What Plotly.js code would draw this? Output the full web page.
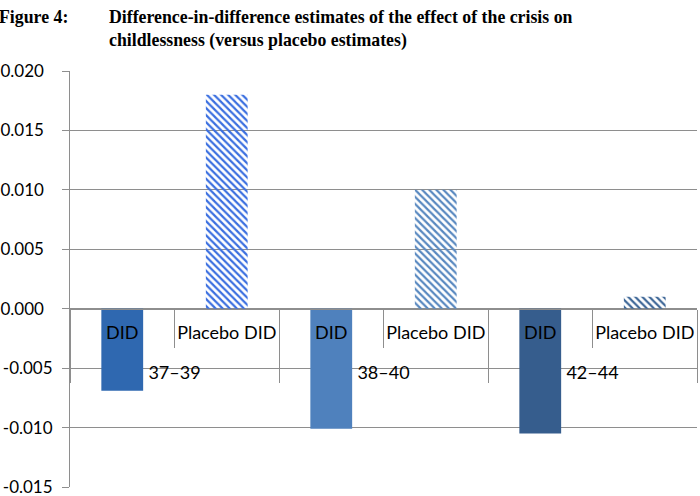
<!DOCTYPE html>
<html><head><meta charset="utf-8">
<script src="https://cdn.plot.ly/plotly-3.0.1.min.js"></script>
<style>html,body{margin:0;padding:0;background:#fff}</style>
</head><body><div id="chart" style="width:700px;height:496px"></div>
<script>
const ageGroups = ['37–39', '38–40', '42–44'];
const estimateTypes = ['DID', 'Placebo DID'];
const didValues = [-0.0069, -0.0101, -0.0105];
const placeboValues = [0.0180, 0.0100, 0.0010];
const didColors = ['#2f68b0', '#4f81bd', '#365d8d'];
const placeboColors = ['#3b6fe0', '#5888c0', '#3f6898'];
const yTickVals = [-0.015, -0.010, -0.005, 0.000, 0.005, 0.010, 0.015, 0.020];
const yTickText = yTickVals.map(v => v < 0 ? '-' + Math.abs(v).toFixed(3) : v.toFixed(3) + '\u00a0\u00a0');

const xGroup = [], xSub = [], yVals = [], colors = [], shapes = [];
ageGroups.forEach((g, i) => {
  const label = '<br>' + g;
  xGroup.push(label, label);
  xSub.push(estimateTypes[0], estimateTypes[1]);
  yVals.push(didValues[i], placeboValues[i]);
  colors.push(didColors[i], placeboColors[i]);
  shapes.push('', '\\');
});

const grey = '#8e8e8e';
const trace = {
  type: 'bar',
  x: [xGroup, xSub],
  y: yVals,
  width: 0.4,
  marker: {
    color: colors,
    line: {width: 0},
    pattern: {shape: shapes, fillmode: 'replace', fgcolor: colors, bgcolor: 'white', size: 5, solidity: 0.45}
  },
  hoverinfo: 'x+y'
};

const plotH = 496 - 71 - 9;
const layout = {
  width: 700, height: 496,
  margin: {l: 70, r: 3, t: 71, b: 9},
  paper_bgcolor: 'white', plot_bgcolor: 'white',
  font: {family: 'Lato, sans-serif', size: 18, color: '#000'},
  showlegend: false,
  annotations: [{
    text: '<b>Difference-in-difference estimates of the effect of the crisis on<br>childlessness (versus placebo estimates)</b>',
    showarrow: false, align: 'left',
    xref: 'paper', x: 37 / 627, xanchor: 'left',
    yref: 'paper', y: 1 + (71 - 5) / plotH, yanchor: 'top',
    font: {family: 'Liberation Serif, serif', size: 17.8, color: '#000'}
  }, {
    text: '<b>Figure 4:</b>', showarrow: false,
    xref: 'paper', x: -73 / 627, xanchor: 'left',
    yref: 'paper', y: 1 + (71 - 5) / plotH, yanchor: 'top',
    font: {family: 'Liberation Serif, serif', size: 17.8, color: '#000'}
  }],
  yaxis: {
    range: [-0.0150001, 0.0200001],
    tickmode: 'array', tickvals: yTickVals, ticktext: yTickText,
    showgrid: true, gridcolor: grey, gridwidth: 1,
    showline: true, linecolor: grey, linewidth: 1,
    ticks: 'outside', ticklen: 7, tickcolor: grey,
    zeroline: false, ticklabelstandoff: 6, ticklabeloverflow: 'allow',
    tickfont: {size: 17}
  },
  xaxis: {
    type: 'multicategory', anchor: 'free', position: 0.015 / 0.035,
    showline: true, linecolor: grey, linewidth: 1,
    ticks: 'outside', tickson: 'boundaries', ticklen: 38, tickcolor: grey,
    showdividers: true, dividercolor: grey, dividerwidth: 1,
    showgrid: false, zeroline: false,
    tickangle: 0, ticklabelstandoff: 8,
    tickfont: {size: 18}
  }
};

Plotly.newPlot('chart', [trace], layout, {displayModeBar: false, staticPlot: true});
</script></body></html>
